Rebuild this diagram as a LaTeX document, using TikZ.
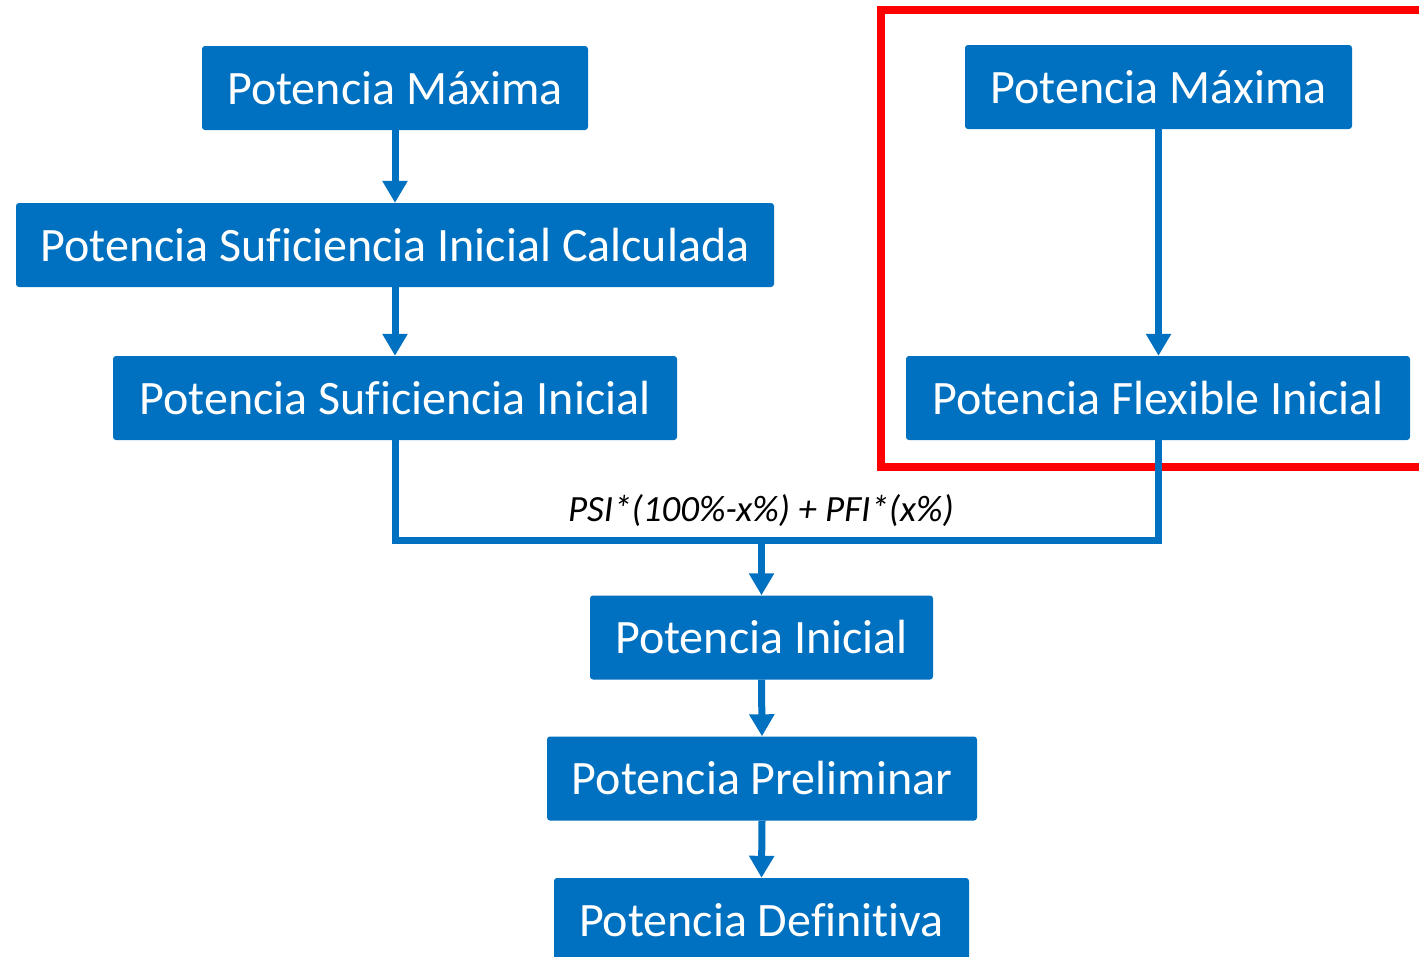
\documentclass[tikz,border=0pt]{standalone}
\usepackage{fontspec}
\setmainfont{Carlito}[Ligatures=NoCommon]
\usetikzlibrary{arrows.meta}
\definecolor{boxblue}{HTML}{0070C0}
\definecolor{framered}{HTML}{FF0000}
\tikzset{
  flowbox/.style={fill=boxblue, draw=none, rounded corners=3pt, text=white,
    inner sep=0pt, minimum height=84pt,
    font=\fontsize{48}{52}\selectfont},
  flowline/.style={draw=boxblue, line width=7pt},
  flowarrow/.style={flowline, -{Triangle[width=24pt,length=22pt]}},
  formula/.style={font=\fontsize{37}{42}\selectfont\itshape, inner sep=0pt}
}
\begin{document}
\begin{tikzpicture}[x=1pt,y=-1pt]
\useasboundingbox (0,0) rectangle (1419,956);
\clip (0,0) rectangle (1419,956);
\fill[white] (0,0) rectangle (1419,956);
% red frame
\draw[framered, line width=7.5pt] (881,10) rectangle (1440,467);
% nodes
\node[flowbox, minimum width=386pt] (pm1) at (395,88) {Potencia Máxima};
\node[flowbox, minimum width=758pt] (psic) at (395,245) {Potencia Suficiencia Inicial Calculada};
\node[flowbox, minimum width=564pt] (psi) at (395,398) {Potencia Suficiencia Inicial};
\node[flowbox, minimum width=387pt] (pm2) at (1158.5,87) {Potencia Máxima};
\node[flowbox, minimum width=504pt] (pfi) at (1158,398) {Potencia Flexible Inicial};
\node[flowbox, minimum width=343pt] (pi) at (761.5,637.5) {Potencia Inicial};
\node[flowbox, minimum width=430pt] (pp) at (762,778.5) {Potencia Preliminar};
\node[flowbox, minimum width=415pt] (pd) at (761.5,920) {Potencia Definitiva};
\coordinate (j) at (761.5,540);
\node[formula] (lbl) at (761,511) {PSI*(100\%-x\%) + PFI*(x\%)};
% connectors
\draw[flowarrow] (pm1.south) -- (psic.north);
\draw[flowarrow] (psic.south) -- (psi.north);
\draw[flowarrow] (pm2.south) -- (pfi.north -| pm2.south);
\draw[flowline] (psi.south) |- (j) -| (pfi.south);
\draw[flowarrow] (j) -- (pi.north);
\draw[flowarrow] (pi.south) -- (pp.north);
\draw[flowarrow] (pp.south) -- (pd.north);
\end{tikzpicture}
\end{document}
